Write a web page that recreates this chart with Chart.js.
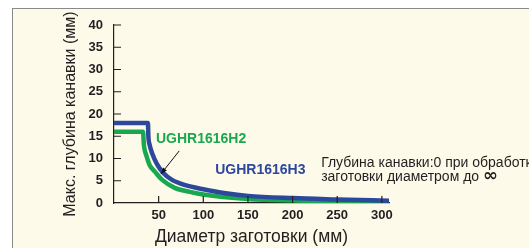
<!DOCTYPE html>
<html>
<head>
<meta charset="utf-8">
<script src="https://cdn.jsdelivr.net/npm/chart.js@4/dist/chart.umd.min.js"></script>
<style>
  html, body { margin: 0; padding: 0; background: #fff; overflow: hidden; }
  #wrap { position: relative; width: 529px; height: 248px; }
  #frame { position: absolute; left: 12px; top: 8px; width: 600px; height: 300px;
           background: #fefae9; border: 1px solid #8a8a8a; }
  #chart { position: absolute; left: 0; top: 0; }
</style>
</head>
<body>
<div id="wrap">
  <div id="frame"></div>
  <canvas id="chart" width="529" height="248"></canvas>
</div>
<script>
// valori
const xTicks = [50, 100, 150, 200, 250, 300];
const yTicks = [0, 5, 10, 15, 20, 25, 30, 35, 40];

const h3X = [0, 38, 38.5, 40, 43, 48, 55, 65, 80, 100, 125, 150, 200, 250, 308];
const h3Y = [18, 18, 15, 13, 11, 8.8, 6.8, 5.2, 4.0, 3.1, 2.2, 1.6, 1.1, 0.8, 0.5];

const h2X = [0, 32.5, 33.5, 36, 40, 46, 54, 68, 85, 100, 150, 200, 250, 308];
const h2Y = [16, 16, 13, 10.8, 8.5, 7.0, 5.2, 3.4, 2.5, 1.9, 0.9, 0.55, 0.4, 0.25];

const BLU = "#2c489c";
const VERDE = "#19a84f";
const TESTO = "#231f20";

function punti(xs, ys) {
    return xs.map((x, i) => ({ x: x, y: ys[i] }));
}

// tacche interne + etichette e freccia
const annotazioni = {
    id: "annotazioni",
    afterDraw(chart) {
        const ctx = chart.ctx;
        const sx = chart.scales.x, sy = chart.scales.y;
        const px = v => sx.getPixelForValue(v);
        const py = v => sy.getPixelForValue(v);
        ctx.save();
        ctx.strokeStyle = TESTO;
        ctx.lineWidth = 1.2;
        ctx.beginPath();
        yTicks.forEach(v => {
            if (v === 0) return;
            ctx.moveTo(sx.left, py(v));
            ctx.lineTo(sx.left + 7, py(v));
        });
        xTicks.forEach(v => {
            ctx.moveTo(px(v), sy.bottom);
            ctx.lineTo(px(v), sy.bottom - 7);
        });
        ctx.stroke();

        ctx.textBaseline = "middle";
        ctx.textAlign = "left";
        ctx.font = "bold 14px 'Liberation Sans', Arial, sans-serif";
        ctx.fillStyle = VERDE;
        ctx.fillText("UGHR1616H2", px(47), py(14.4));
        ctx.fillStyle = BLU;
        ctx.fillText("UGHR1616H3", px(113.3), py(7.4));

        // freccia
        const x1 = px(73), y1 = py(11.7), x2 = px(52.5), y2 = py(6.5);
        ctx.strokeStyle = "#111";
        ctx.lineWidth = 1;
        ctx.beginPath();
        ctx.moveTo(x1, y1);
        ctx.lineTo(x2, y2);
        ctx.stroke();
        const ang = Math.atan2(y2 - y1, x2 - x1);
        ctx.fillStyle = "#111";
        ctx.beginPath();
        ctx.moveTo(x2, y2);
        ctx.lineTo(x2 - 7 * Math.cos(ang - 0.35), y2 - 7 * Math.sin(ang - 0.35));
        ctx.lineTo(x2 - 7 * Math.cos(ang + 0.35), y2 - 7 * Math.sin(ang + 0.35));
        ctx.closePath();
        ctx.fill();

        ctx.fillStyle = TESTO;
        ctx.font = "14px 'Liberation Sans', Arial, sans-serif";
        ctx.fillText("Глубина канавки:0 при обработке", px(232), py(9.0));
        const riga2 = "заготовки диаметром до ";
        ctx.fillText(riga2, px(232), py(5.9));
        const w = ctx.measureText(riga2).width;
        ctx.font = "bold 18px 'DejaVu Sans', sans-serif";
        ctx.fillText("∞", px(232) + w, py(5.9));
        ctx.restore();
    }
};

Chart.defaults.font.family = "'Liberation Sans', Arial, sans-serif";
Chart.defaults.color = TESTO;

new Chart(document.getElementById("chart"), {
    type: "line",
    data: {
        datasets: [
            { label: "UGHR1616H3", data: punti(h3X, h3Y), borderColor: BLU, borderWidth: 4.5,
              pointRadius: 0, cubicInterpolationMode: "monotone", fill: false },
            { label: "UGHR1616H2", data: punti(h2X, h2Y), borderColor: VERDE, borderWidth: 4.5,
              pointRadius: 0, cubicInterpolationMode: "monotone", fill: false }
        ]
    },
    options: {
        responsive: false,
        animation: false,
        layout: { padding: { left: 0, right: 140, top: 25, bottom: 0 } },
        plugins: { legend: { display: false }, tooltip: { enabled: false } },
        scales: {
            x: {
                type: "linear", min: 0, max: 308,
                afterBuildTicks: s => { s.ticks = xTicks.map(v => ({ value: v })); },
                afterFit: s => { s.height = 45; },
                grid: { display: false, drawTicks: false },
                border: { display: true, color: TESTO, width: 1.2 },
                ticks: { font: { size: 13, weight: "bold" }, padding: 5, maxRotation: 0 },
                title: { display: true, text: "Диаметр заготовки (мм)", font: { size: 17.5 }, padding: { top: 0, bottom: 0 } }
            },
            y: {
                type: "linear", min: 0, max: 40,
                afterBuildTicks: s => { s.ticks = yTicks.map(v => ({ value: v })); },
                afterFit: s => { s.width = 114; },
                grid: { display: false, drawTicks: false },
                border: { display: true, color: TESTO, width: 1.2 },
                ticks: { font: { size: 13, weight: "bold" }, padding: 11 },
                title: { display: true, text: "Макс. глубина канавки (мм)", font: { size: 16 }, padding: { top: 61, bottom: 0 } }
            }
        }
    },
    plugins: [annotazioni]
});
</script>
</body>
</html>
